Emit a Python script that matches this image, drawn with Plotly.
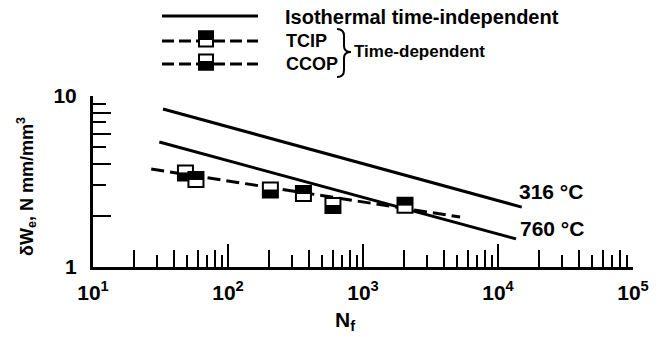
import plotly.graph_objects as go

# ---------------- data ----------------
iso316_N = [33, 15000]
iso316_W = [8.4, 2.24]
iso760_N = [31, 13600]
iso760_W = [5.38, 1.46]
fit_N = [27, 5240]
fit_W = [3.74, 1.96]
tcip_N = [57.9, 362, 2047]
tcip_W = [3.25, 2.69, 2.30]
ccop_N = [48.4, 206, 599]
ccop_W = [3.55, 2.82, 2.29]

x_major = [10, 100, 1000, 10000, 100000]
x_major_text = ["10<sup>1</sup>", "10<sup>2</sup>", "10<sup>3</sup>", "10<sup>4</sup>", "10<sup>5</sup>"]
y_major = [1, 10]
y_major_text = ["1", "10"]
x_decades = [10, 100, 1000, 10000]
y_decades = [1]
even_mult = [2, 4, 6, 8]
odd_mult = [3, 5, 7, 9]

label_316 = "316 °C"
label_760 = "760 °C"

# ---------------- layout geometry ----------------
W, H = 663, 337
L, R, T, B = 93, 30, 96, 70
PW, PH = W - L - R, H - T - B
FONT = "Liberation Sans, Arial, sans-serif"


def px(x):
    return (x - L) / PW


def py(y):
    return (H - B - y) / PH


x_even = [m * d for d in x_decades for m in even_mult]
x_odd = [m * d for d in x_decades for m in odd_mult]
y_even = [m * d for d in y_decades for m in even_mult]
y_odd = [m * d for d in y_decades for m in odd_mult]

fig = go.Figure()

line_style = dict(color="black", width=3)
fig.add_trace(go.Scatter(x=iso316_N, y=iso316_W, mode="lines", line=line_style, showlegend=False))
fig.add_trace(go.Scatter(x=iso760_N, y=iso760_W, mode="lines", line=line_style, showlegend=False))
fig.add_trace(go.Scatter(x=fit_N, y=fit_W, mode="lines",
                         line=dict(color="black", width=3, dash="13px,6px"), showlegend=False))

# half-filled square markers: white square + black half bar (line-ew shifted by standoff)
SQ = 15          # square side (px)
BAR = SQ / 1.4   # line-ew length is 1.4 * size
for xs, ys, ang in ((ccop_N, ccop_W, 0), (tcip_N, tcip_W, 180)):
    fig.add_trace(go.Scatter(x=xs, y=ys, mode="markers", showlegend=False,
                             marker=dict(symbol="square", size=SQ, color="white",
                                         line=dict(color="black", width=2))))
    fig.add_trace(go.Scatter(x=xs, y=ys, mode="markers", showlegend=False,
                             marker=dict(symbol="line-ew", size=BAR, color="black",
                                         angle=ang, standoff=SQ / 4,
                                         line=dict(color="black", width=SQ / 2 + 1))))

# invisible trace on the overlay axes (carry the odd minor ticks)
fig.add_trace(go.Scatter(x=[100], y=[2], xaxis="x2", yaxis="y2", mode="markers",
                         marker=dict(opacity=0), showlegend=False, hoverinfo="skip"))

shapes = []


def half_marker(x, y, top_black, mw=7, mh=7.5):
    ref = dict(xref="paper", yref="paper", xsizemode="pixel", ysizemode="pixel", xanchor=x, yanchor=y)
    out = [dict(type="rect", x0=-mw, x1=mw, y0=-mh, y1=mh, fillcolor="white",
                line=dict(color="black", width=2), **ref)]
    y0, y1 = (0, mh) if top_black else (-mh, 0)
    out.append(dict(type="rect", x0=-mw, x1=mw, y0=y0, y1=y1, fillcolor="black",
                    line=dict(color="black", width=2), **ref))
    return out


# ---- legend (drawn by hand, paper coords) ----
shapes.append(dict(type="line", xref="paper", yref="paper", x0=px(162), x1=px(258), y0=py(16), y1=py(16),
                   line=dict(color="black", width=3)))
for yy in (41, 64):
    shapes.append(dict(type="line", xref="paper", yref="paper", x0=px(162), x1=px(258), y0=py(yy), y1=py(yy),
                       line=dict(color="black", width=3, dash="12px,5px")))
shapes += half_marker(px(206), py(39), True)
shapes += half_marker(px(206), py(62), False)

# brace
bx0, bx1, bx2 = px(337), px(344), px(351)
path = (f"M {bx0} {py(29)} Q {bx1} {py(29)} {bx1} {py(36)} L {bx1} {py(46)} "
        f"Q {bx1} {py(52)} {bx2} {py(52)} Q {bx1} {py(52)} {bx1} {py(58)} "
        f"L {bx1} {py(70)} Q {bx1} {py(77)} {bx0} {py(77)}")
shapes.append(dict(type="path", xref="paper", yref="paper", path=path,
                   line=dict(color="black", width=2)))


def note(text, x, y, size, xanchor="left", **kw):
    d = dict(text=text, x=px(x), y=py(y), xref="paper", yref="paper",
             xanchor=xanchor, yanchor="middle", showarrow=False,
             font=dict(family=FONT, size=size, color="black", weight="bold"))
    d.update(kw)
    return d


annotations = [
    note("Isothermal time-independent", 283, 17, 20),
    note("TCIP", 284, 41, 18),
    note("CCOP", 284, 64, 18),
    note("Time-dependent", 352, 51, 17),
    note(label_316, 517, 191, 21),
    note(label_760, 518, 228, 21),
    note("δW<sub>e</sub>, N mm/mm<sup>3</sup>", 26, 187, 18, xanchor="center", textangle=-90),
    note("N<sub>f</sub>", 345, 321, 21, xanchor="center"),
]

tick_font = dict(family=FONT, size=21, color="black", weight="bold")
fig.update_layout(
    width=W, height=H, autosize=False,
    margin=dict(l=L, r=R, t=T, b=B, pad=0),
    paper_bgcolor="white", plot_bgcolor="white",
    showlegend=False,
    xaxis=dict(type="log", range=[1, 5], showgrid=False, zeroline=False,
               showline=True, linecolor="black", linewidth=3,
               tickmode="array", tickvals=x_major, ticktext=x_major_text,
               ticks="inside", ticklen=23, tickwidth=2, tickcolor="black",
               tickfont=tick_font, ticklabelstandoff=5,
               minor=dict(tickmode="array", tickvals=x_even, ticks="inside", ticklen=17,
                          tickwidth=2, tickcolor="black", showgrid=False)),
    yaxis=dict(type="log", range=[0, 1], showgrid=False, zeroline=False,
               showline=True, linecolor="black", linewidth=3,
               tickmode="array", tickvals=y_major, ticktext=y_major_text,
               ticks="inside", ticklen=23, tickwidth=2, tickcolor="black",
               tickfont=tick_font, ticklabelstandoff=9,
               minor=dict(tickmode="array", tickvals=y_even, ticks="inside", ticklen=18,
                          tickwidth=2, tickcolor="black", showgrid=False)),
    xaxis2=dict(type="log", range=[1, 5], overlaying="x", anchor="y2", side="bottom",
                showgrid=False, zeroline=False, showline=False, showticklabels=False,
                tickmode="array", tickvals=x_odd, ticks="inside", ticklen=12, tickwidth=2,
                tickcolor="black"),
    yaxis2=dict(type="log", range=[0, 1], overlaying="y", anchor="x2", side="left",
                showgrid=False, zeroline=False, showline=False, showticklabels=False,
                tickmode="array", tickvals=y_odd, ticks="inside", ticklen=13, tickwidth=2,
                tickcolor="black"),
    shapes=shapes,
    annotations=annotations,
)

fig.write_html("out.html")
